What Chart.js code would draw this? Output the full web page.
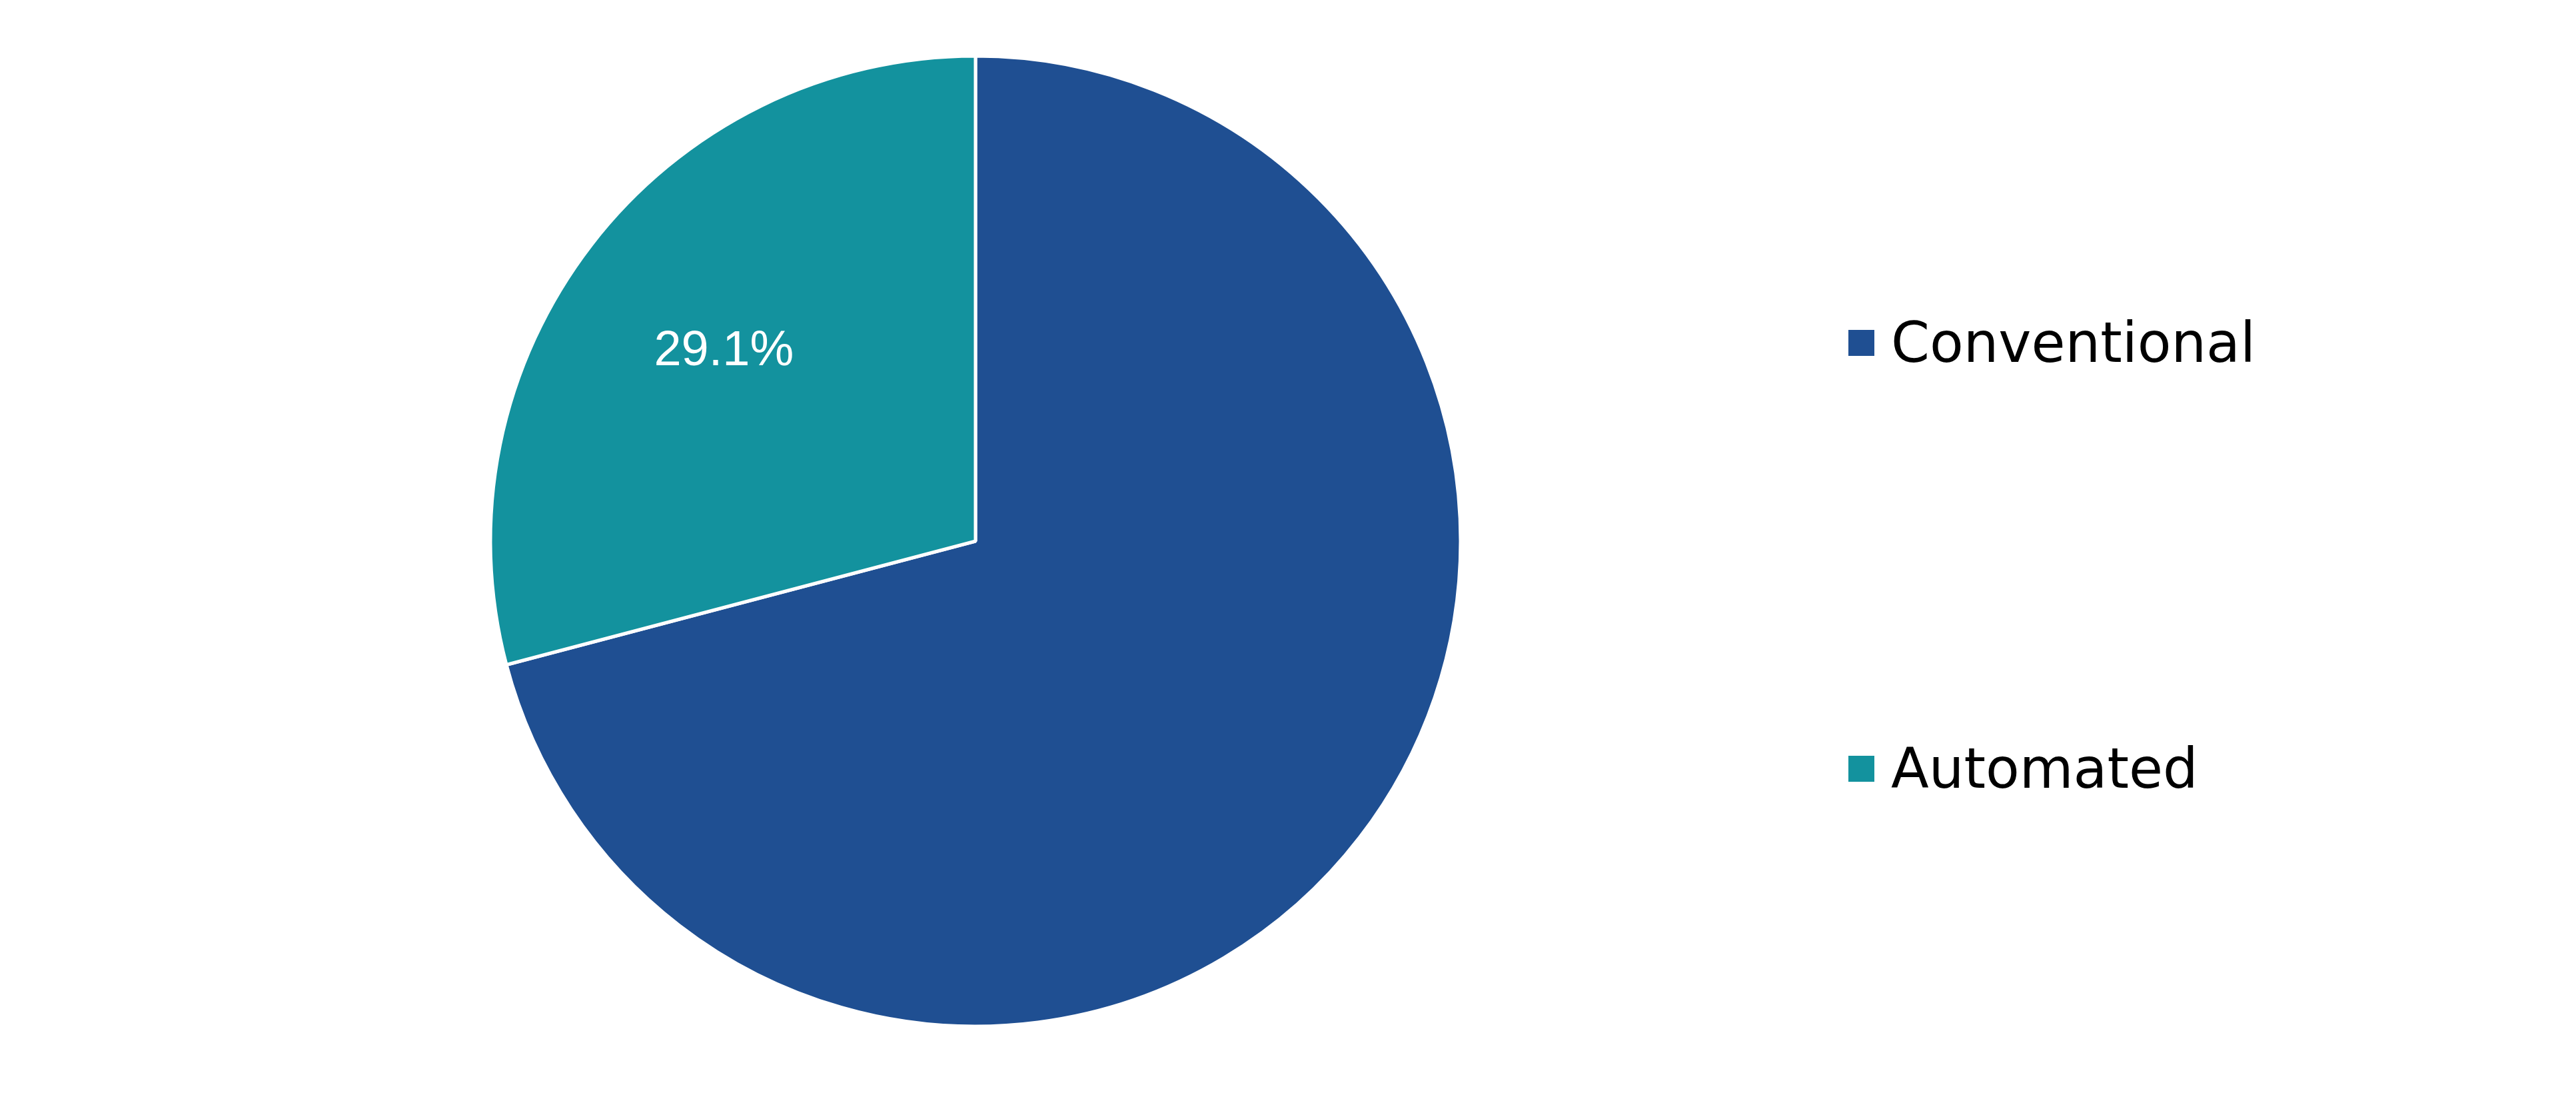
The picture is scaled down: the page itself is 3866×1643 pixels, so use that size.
<!DOCTYPE html>
<html>
<head>
<meta charset="utf-8">
<script src="https://cdn.jsdelivr.net/npm/chart.js@4.4.0/dist/chart.umd.min.js"></script>
<style>
  html, body { margin: 0; padding: 0; background: #ffffff; }
  #wrap { position: relative; width: 3866px; height: 1643px; }
  #legend { position: absolute; left: 2774px; top: 0; font-family: "DejaVu Sans", sans-serif; font-size: 83px; color: #000; }
  .item { position: absolute; left: 0; display: flex; align-items: center; white-space: nowrap; }
  .box { width: 39px; height: 39px; margin-right: 25px; flex: none; }
</style>
</head>
<body>
<div id="wrap">
  <canvas id="myChart" width="3866" height="1643"></canvas>
  <div id="legend"></div>
</div>
<script>
// datos del gráfico
var categorias = ["Conventional", "Automated"];
var valores = [70.9, 29.1];
var colores = ["#1F4F92", "#13929E"];
var mostrarEtiqueta = [false, true]; // en el original solo sale la del sector pequeño

// plugin sencillo para escribir el porcentaje dentro del sector
var etiquetasPorcentaje = {
    id: 'etiquetasPorcentaje',
    afterDatasetsDraw: function (chart) {
        var ctx = chart.ctx;
        var meta = chart.getDatasetMeta(0);
        meta.data.forEach(function (arc, i) {
            if (!mostrarEtiqueta[i]) return;
            var p = arc.getProps(['x', 'y', 'startAngle', 'endAngle', 'outerRadius']);
            var medio = (p.startAngle + p.endAngle) / 2;
            var d = p.outerRadius * 0.655;
            var tam = 74;
            ctx.save();
            ctx.fillStyle = '#ffffff';
            ctx.font = tam + 'px "Liberation Sans", Arial, sans-serif';
            ctx.textAlign = 'center';
            ctx.textBaseline = 'alphabetic';
            // centrar las cifras (no la caja em) en el punto
            ctx.fillText(valores[i].toFixed(1) + '%', p.x + Math.cos(medio) * d, p.y + Math.sin(medio) * d + tam * 0.36);
            ctx.restore();
        });
    }
};

var ctx = document.getElementById('myChart').getContext('2d');
var myChart = new Chart(ctx, {
    type: 'pie',
    data: {
        labels: categorias,
        datasets: [{
            data: valores,
            backgroundColor: colores,
            borderColor: '#ffffff',
            borderWidth: 5
        }]
    },
    options: {
        responsive: false,
        animation: false,
        radius: 728,
        layout: { padding: { left: 0, right: 938, top: 0, bottom: 19 } },
        plugins: {
            legend: { display: false },
            tooltip: { enabled: false }
        }
    },
    plugins: [etiquetasPorcentaje]
});

// leyenda en html
var leyenda = document.getElementById('legend');
var filas = [514, 1153];
categorias.forEach(function (nombre, i) {
    var item = document.createElement('div');
    item.className = 'item';
    item.style.top = (filas[i] - 60) + 'px';
    item.style.height = '120px';
    var caja = document.createElement('span');
    caja.className = 'box';
    caja.style.background = colores[i];
    var texto = document.createElement('span');
    texto.textContent = nombre;
    item.appendChild(caja);
    item.appendChild(texto);
    leyenda.appendChild(item);
});
</script>
</body>
</html>
